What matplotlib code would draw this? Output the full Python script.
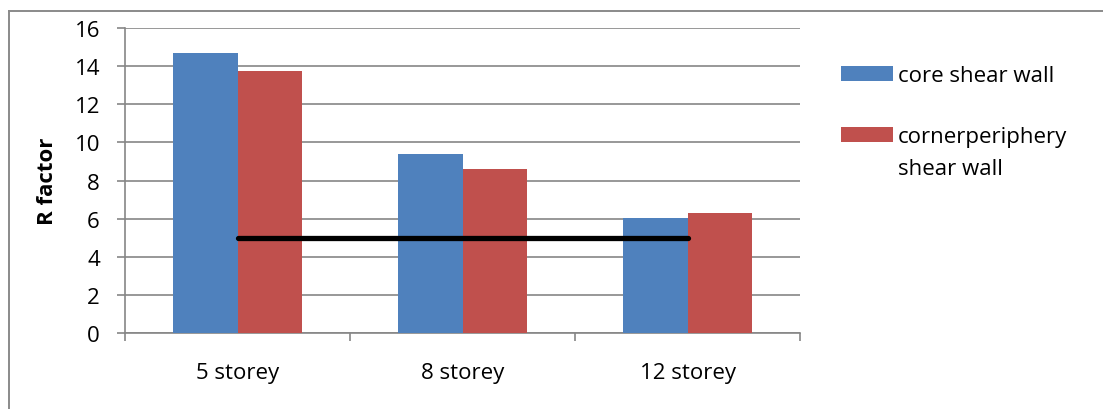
import matplotlib
matplotlib.use("Agg")
import matplotlib.pyplot as plt
from matplotlib.patches import Rectangle
from matplotlib.lines import Line2D
import numpy as np

categories = ["5 storey", "8 storey", "12 storey"]
series_names = ["core shear wall", "cornerperiphery\nshear wall"]
core_shear_wall = [14.67, 9.39, 6.02]
corner_periphery = [13.76, 8.60, 6.28]
threshold = [5, 5, 5]
yticks = [0, 2, 4, 6, 8, 10, 12, 14, 16]

BLUE = "#4F81BD"
RED = "#C0504D"
GRID = "#868686"

plt.rcParams['font.family'] = ['Open Sans', 'DejaVu Sans']
FS = 16

W, H = 1103, 410
fig = plt.figure(figsize=(W/100, H/100), dpi=100)

def fx(px): return px / W
def fy(py): return (H - py) / H

# outer chart border (top and left edges visible)
fig.add_artist(Line2D([fx(9), 1.02], [fy(12), fy(12)], color="#8a8a8a", linewidth=1.4))
fig.add_artist(Line2D([fx(9), fx(9)], [fy(12), -0.02], color="#8a8a8a", linewidth=1.4))

ax = fig.add_axes([125/W, (H-334)/H, 675/W, 305/H])
x = np.arange(len(categories))
w = 64.3/225
ax.bar(x - w/2, core_shear_wall, w, color=BLUE, zorder=3, label=series_names[0])
ax.bar(x + w/2, corner_periphery, w, color=RED, zorder=3, label=series_names[1])
ax.plot(x, threshold, color="black", linewidth=3.8, solid_capstyle="round", zorder=4)

ax.set_xlim(-0.5, 2.5)
ax.set_ylim(0, 16)
ax.set_yticks(yticks)
ax.set_yticklabels([str(v) for v in yticks], fontsize=FS)
ax.yaxis.grid(True, color=GRID, linewidth=1.2, zorder=0)
ax.set_axisbelow(True)

ax.set_xticks(x)
ax.set_xticklabels(categories, fontsize=FS)
ax.set_xticks([-0.5, 0.5, 1.5, 2.5], minor=True)
ax.tick_params(axis='x', which='major', length=0, pad=21)
ax.tick_params(axis='x', which='minor', length=6, color=GRID, width=1.2, direction='out')
ax.tick_params(axis='y', length=6, color=GRID, width=1.2, pad=12)

for s in ['top', 'right']:
    ax.spines[s].set_visible(False)
for s in ['left', 'bottom']:
    ax.spines[s].set_color(GRID)
    ax.spines[s].set_linewidth(1.2)

ax.set_ylabel("R factor", fontsize=FS, fontweight='bold', labelpad=12)

# legend drawn manually
for color, name, pcy, base in [(BLUE, series_names[0], 74.5, 82.5), (RED, series_names[1], 135.5, 143)]:
    fig.patches.append(Rectangle((fx(841), fy(pcy + 7.5)), 52/W, 15/H, transform=fig.transFigure,
                                 facecolor=color, edgecolor='none'))
    for i, line in enumerate(name.split("\n")):
        fig.text(fx(898), fy(base + 32 * i), line, fontsize=FS, va='baseline', ha='left')

fig.savefig("out.png", dpi=100)
